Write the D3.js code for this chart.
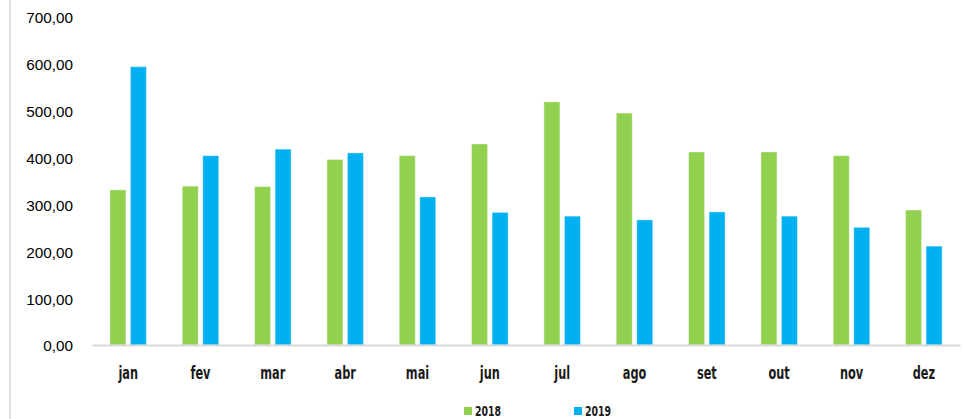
<!DOCTYPE html>
<html>
<head>
<meta charset="utf-8">
<script src="https://cdn.jsdelivr.net/npm/d3@7"></script>
<style>
  html, body { margin: 0; padding: 0; background: #fff; }
  svg { display: block; }
</style>
</head>
<body>
<svg id="chart" width="964" height="419"></svg>
<script>
// Monthly values, 2018 vs 2019
const months = ["jan", "fev", "mar", "abr", "mai", "jun", "jul", "ago", "set", "out", "nov", "dez"];
const values2018 = [331, 339, 338, 396, 404, 429, 519, 495, 412, 412, 404, 288];
const values2019 = [594, 404, 418, 410, 316, 283, 275, 267, 284, 275, 251, 211];
const seriesNames = ["2018", "2019"];
const seriesColors = ["#92D050", "#00B0F0"];
const yTicks = [0, 100, 200, 300, 400, 500, 600, 700];

const svg = d3.select("#chart");
const plot = { left: 92, right: 960, top: 17, bottom: 345 };

const x = d3.scaleBand().domain(months).range([plot.left, plot.right]).paddingInner(0).paddingOuter(0);
const y = d3.scaleLinear().domain([0, 700]).range([plot.bottom, plot.top]);

const barW = 16, barGap = 4.5;
const narrowFont = "'DejaVu Sans Condensed', 'DejaVu Sans', sans-serif";

// outer frame line on the left
svg.append("line")
  .attr("x1", 10).attr("x2", 10).attr("y1", 0).attr("y2", 419)
  .attr("stroke", "#d9d9d9").attr("stroke-width", 1.5);

// y axis labels (no axis line, no ticks)
const fmt = v => d3.format(".2f")(v).replace(".", ",");
const yAxis = d3.axisLeft(y).tickValues(yTicks).tickSize(0).tickPadding(0).tickFormat(fmt);
const yg = svg.append("g").attr("transform", "translate(73,1)").call(yAxis);
yg.select(".domain").remove();
yg.selectAll("text")
  .attr("font-family", "'Liberation Sans', Arial, sans-serif")
  .attr("font-size", 15.3)
  .attr("fill", "#000");

// bars
const rows = months.map((m, i) => ({ m, v: [values2018[i], values2019[i]] }));
const groups = svg.append("g").selectAll("g").data(rows).join("g")
  .attr("transform", d => `translate(${x(d.m) + x.bandwidth() / 2},0)`);

groups.selectAll("rect").data(d => d.v.map((v, k) => ({ v, k }))).join("rect")
  .attr("x", d => d.k === 0 ? -barGap / 2 - barW : barGap / 2)
  .attr("width", barW)
  .attr("y", d => y(d.v))
  .attr("height", d => y(0) - y(d.v))
  .attr("fill", d => seriesColors[d.k])
  .attr("stroke", "#ffffff")
  .attr("stroke-opacity", 0.4)
  .attr("stroke-width", 1);

// category axis
const xAxis = d3.axisBottom(x).tickSize(0).tickPadding(0);
const xg = svg.append("g").attr("transform", `translate(0,${plot.bottom})`).call(xAxis);
xg.select(".domain").attr("stroke", "#d9d9d9").attr("stroke-width", 2);
xg.selectAll("text")
  .attr("dy", null)
  .attr("y", 0)
  .attr("transform", "translate(0,34) scale(0.7,1)")
  .attr("font-family", narrowFont)
  .attr("font-weight", "bold")
  .attr("font-size", 18)
  .attr("fill", "#1a1a1a");

// legend
const legendPos = [464, 574];
const legend = svg.append("g").selectAll("g").data(seriesNames).join("g")
  .attr("transform", (d, i) => `translate(${legendPos[i]},407)`);
legend.append("rect").attr("width", 8).attr("height", 8).attr("fill", (d, i) => seriesColors[i]);
legend.append("text")
  .attr("transform", "translate(11,8.5) scale(0.76,1)")
  .attr("font-family", narrowFont)
  .attr("font-weight", "bold")
  .attr("font-size", 13.7)
  .attr("fill", "#1a1a1a")
  .text(d => d);
</script>
</body>
</html>
